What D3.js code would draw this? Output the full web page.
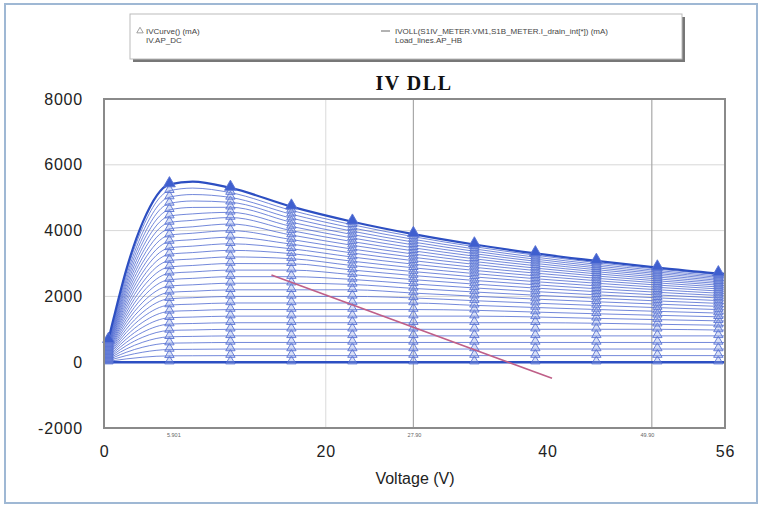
<!DOCTYPE html>
<html>
<head>
<meta charset="utf-8">
<script src="https://cdn.jsdelivr.net/npm/d3@7"></script>
<style>
  body { margin: 0; background: #fff; }
  text { font-family: "Liberation Sans", Arial, sans-serif; }
</style>
</head>
<body>
<script>
const W = 763, H = 512;
const plot = {left: 104, right: 725, top: 99, bottom: 428};

// drain voltage sweep (V)
const voltage = [0, 0.4, 1, 2, 3.5, 5.9, 8, 11.4, 16.9, 22.4, 27.9, 33.4, 38.9, 44.4, 49.9, 55.4, 56];
// voltages where the IV.AP_DC triangles sit
const markerVoltage = [0.4, 5.9, 11.4, 16.9, 22.4, 27.9, 33.4, 38.9, 44.4, 49.9, 55.4];

// drain current (mA), one row per gate step
const idsCurves = [
  [0,0,0,0,0,0,0,0,0,0,0,0,0,0,0,0,0],
  [0,24,54,100,152,193,196,200,200,200,200,200,200,200,200,200,200],
  [0,48,108,200,304,386,392,400,400,400,400,400,400,400,400,400,400],
  [0,72,162,300,456,579,588,600,600,600,600,600,600,600,600,600,600],
  [0,96,216,400,608,772,784,800,800,800,800,800,800,800,800,800,800],
  [0,120,270,500,760,965,980,1000,1000,1000,1000,1000,1000,1000,1000,978,976],
  [0,144,324,600,912,1158,1176,1200,1200,1200,1200,1200,1200,1184,1153,1124,1121],
  [0,168,378,700,1064,1351,1372,1400,1400,1400,1400,1400,1375,1333,1294,1257,1253],
  [0,192,432,800,1216,1544,1568,1600,1600,1600,1600,1578,1523,1472,1425,1380,1375],
  [0,216,486,900,1368,1737,1764,1800,1800,1800,1798,1728,1663,1602,1546,1493,1488],
  [0,240,540,1000,1520,1930,1960,2000,2000,2000,1953,1870,1794,1724,1659,1599,1593],
  [0,264,594,1100,1672,2123,2156,2200,2200,2200,2101,2006,1918,1838,1765,1697,1690],
  [0,288,648,1200,1824,2316,2352,2400,2400,2363,2243,2134,2036,1946,1863,1788,1780],
  [0,312,702,1300,1976,2509,2548,2600,2600,2515,2379,2257,2147,2047,1956,1873,1865],
  [0,336,756,1400,2128,2702,2744,2800,2800,2661,2509,2374,2253,2143,2044,1953,1944],
  [0,360,810,1500,2280,2895,2940,3000,2992,2801,2634,2485,2353,2233,2126,2028,2019],
  [0,384,864,1600,2432,3088,3136,3200,3147,2937,2754,2592,2448,2319,2203,2098,2088],
  [0,408,918,1700,2584,3281,3332,3400,3299,3069,2869,2694,2538,2400,2276,2164,2153],
  [0,432,972,1800,2736,3474,3528,3600,3446,3196,2980,2791,2625,2477,2345,2227,2215],
  [0,456,1026,1900,2888,3667,3724,3800,3589,3319,3086,2884,2707,2550,2411,2286,2273],
  [0,480,1080,2000,3040,3860,3920,4000,3729,3438,3189,2974,2786,2620,2473,2342,2329],
  [0,504,1134,2100,3192,4053,4116,4200,3865,3553,3288,3060,2861,2687,2532,2395,2382],
  [0,528,1188,2200,3344,4246,4312,4397,3998,3665,3384,3142,2933,2750,2588,2445,2431],
  [0,552,1242,2300,3496,4439,4508,4554,4127,3774,3476,3222,3002,2811,2642,2493,2479],
  [0,576,1296,2400,3648,4632,4704,4709,4254,3880,3566,3299,3069,2869,2694,2538,2523],
  [0,600,1350,2500,3800,4825,4900,4860,4377,3981,3651,3372,3132,2924,2742,2582,2567],
  [0,624,1404,2600,3952,5018,5096,5008,4497,4081,3735,3443,3193,2977,2789,2623,2608],
  [0,648,1458,2700,4104,5211,5292,5154,4614,4177,3815,3511,3252,3028,2833,2662,2646],
  [0,672,1512,2800,4256,5404,5488,5297,4728,4270,3893,3577,3308,3077,2876,2700,2684]
];

// load line (Load_lines.AP_HB)
const loadLineV = [15.1, 40.4];
const loadLineI = [2650, -490];

const xTicks = [0, 20, 40, 56];
const yTicks = [-2000, 0, 2000, 4000, 6000, 8000];
const gridY = [2000, 4000, 6000];
const gridX = [20];
const markerLineV = [27.9, 49.4];
const readoutV = [6.3, 28.0, 49.0];
const readoutText = ["5.901", "27.90", "49.90"];

const svg = d3.select("body").append("svg")
  .attr("width", W)
  .attr("height", H);

// window frame
svg.append("rect")
  .attr("x", 5).attr("y", 4)
  .attr("width", 752).attr("height", 499)
  .attr("fill", "#fff")
  .attr("stroke", "#9fb8d4")
  .attr("stroke-width", 2);

const x = d3.scaleLinear().domain([0, 56]).range([plot.left, plot.right]);
const y = d3.scaleLinear().domain([-2000, 8000]).range([plot.bottom, plot.top]);

// faint grid
svg.selectAll("line.gy").data(gridY).join("line")
  .attr("class", "gy")
  .attr("x1", plot.left).attr("x2", plot.right)
  .attr("y1", d => y(d)).attr("y2", d => y(d))
  .attr("stroke", "#d8d8d8").attr("stroke-width", 1);
svg.selectAll("line.gx").data(gridX).join("line")
  .attr("class", "gx")
  .attr("x1", d => x(d)).attr("x2", d => x(d))
  .attr("y1", plot.top).attr("y2", plot.bottom)
  .attr("stroke", "#dadada").attr("stroke-width", 1);
svg.selectAll("line.mk").data(markerLineV).join("line")
  .attr("class", "mk")
  .attr("x1", d => x(d)).attr("x2", d => x(d))
  .attr("y1", plot.top).attr("y2", plot.bottom)
  .attr("stroke", "#a8a8a8").attr("stroke-width", 1.2);

// IV family
const line = d3.line()
  .x(d => x(d[0]))
  .y(d => y(d[1]))
  .curve(d3.curveMonotoneX);

const last = idsCurves.length - 1;
svg.selectAll("path.iv").data(idsCurves).join("path")
  .attr("class", "iv")
  .attr("d", row => line(voltage.map((v, i) => [v, row[i]])))
  .attr("fill", "none")
  .attr("stroke", (row, i) => i === last || i === 0 ? "#2d4fc2" : "#4f6ad0")
  .attr("stroke-width", (row, i) => i === last ? 2.2 : (i === 0 ? 2.6 : 0.8));

// triangles
const tri = d3.symbol().type(d3.symbolTriangle);
const pts = [];
idsCurves.forEach((row, r) => {
  markerVoltage.forEach(mv => {
    const i = voltage.indexOf(mv);
    pts.push({v: mv, c: row[i], top: r === last});
  });
});
svg.selectAll("path.tri").data(pts).join("path")
  .attr("class", "tri")
  .attr("d", d => tri.size(d.top ? 60 : 38)())
  .attr("transform", d => "translate(" + x(d.v) + "," + (y(d.c) - 1) + ")")
  .attr("fill", d => d.top ? "#3f5fcf" : "rgba(150,168,228,0.35)")
  .attr("stroke", "#5a74d4")
  .attr("stroke-width", 0.9);

// load line
svg.append("path")
  .attr("d", line.curve(d3.curveLinear)(loadLineV.map((v, i) => [v, loadLineI[i]])))
  .attr("fill", "none")
  .attr("stroke", "#bf5f88")
  .attr("stroke-width", 1.6);

// plot border
svg.append("rect")
  .attr("x", plot.left).attr("y", plot.top)
  .attr("width", plot.right - plot.left).attr("height", plot.bottom - plot.top)
  .attr("fill", "none")
  .attr("stroke", "#8a8a8a")
  .attr("stroke-width", 2);

// axes
const yAxis = svg.append("g")
  .attr("transform", "translate(" + plot.left + ",0)")
  .call(d3.axisLeft(y).tickValues(yTicks).tickSize(0).tickPadding(21).tickFormat(d => String(d)));
const xAxis = svg.append("g")
  .attr("transform", "translate(0," + plot.bottom + ")")
  .call(d3.axisBottom(x).tickValues(xTicks).tickSize(0).tickPadding(18).tickFormat(d => String(d)));
[yAxis, xAxis].forEach(a => {
  a.select(".domain").remove();
  a.selectAll("text")
    .style("font-family", "Liberation Sans, Arial, sans-serif")
    .attr("font-size", 16)
    .attr("letter-spacing", 0.8)
    .attr("fill", "#222");
});

// marker readouts under the axis
svg.selectAll("text.ro").data(readoutV).join("text")
  .attr("class", "ro")
  .attr("x", d => x(d)).attr("y", plot.bottom + 9)
  .attr("text-anchor", "middle")
  .attr("font-size", 5.5)
  .attr("fill", "#666")
  .text((d, i) => readoutText[i]);

svg.append("text")
  .attr("x", 415).attr("y", 484)
  .attr("text-anchor", "middle")
  .attr("font-size", 16)
  .attr("fill", "#222")
  .text("Voltage (V)");

svg.append("text")
  .attr("x", 414).attr("y", 90)
  .attr("text-anchor", "middle")
  .style("font-family", "'Liberation Serif', 'Times New Roman', serif")
  .attr("font-weight", "bold")
  .attr("font-size", 20)
  .attr("letter-spacing", 1.5)
  .attr("fill", "#111")
  .text("IV DLL");

// legend
const lg = svg.append("g");
lg.append("rect")
  .attr("x", 133).attr("y", 17).attr("width", 552).attr("height", 45)
  .attr("fill", "#777");
lg.append("rect")
  .attr("x", 130).attr("y", 14).attr("width", 552).attr("height", 45)
  .attr("fill", "#fff").attr("stroke", "#bbb").attr("stroke-width", 1);
lg.append("path")
  .attr("d", d3.symbol().type(d3.symbolTriangle).size(18)())
  .attr("transform", "translate(140,31)")
  .attr("fill", "none").attr("stroke", "#888").attr("stroke-width", 0.8);
const legendLeft = ["IVCurve() (mA)", "IV.AP_DC"];
const legendRight = ["IVOLL(S1IV_METER.VM1,S1B_METER.I_drain_int[*]) (mA)", "Load_lines.AP_HB"];
lg.selectAll("text.ll").data(legendLeft).join("text")
  .attr("class", "ll")
  .attr("x", 146).attr("y", (d, i) => 34 + i * 9)
  .attr("font-size", 8).attr("fill", "#444")
  .text(d => d);
lg.append("line")
  .attr("x1", 381).attr("x2", 390).attr("y1", 31).attr("y2", 31)
  .attr("stroke", "#666").attr("stroke-width", 1);
lg.selectAll("text.lr").data(legendRight).join("text")
  .attr("class", "lr")
  .attr("x", 395).attr("y", (d, i) => 34 + i * 9)
  .attr("font-size", 8).attr("fill", "#444")
  .text(d => d);
</script>
</body>
</html>
